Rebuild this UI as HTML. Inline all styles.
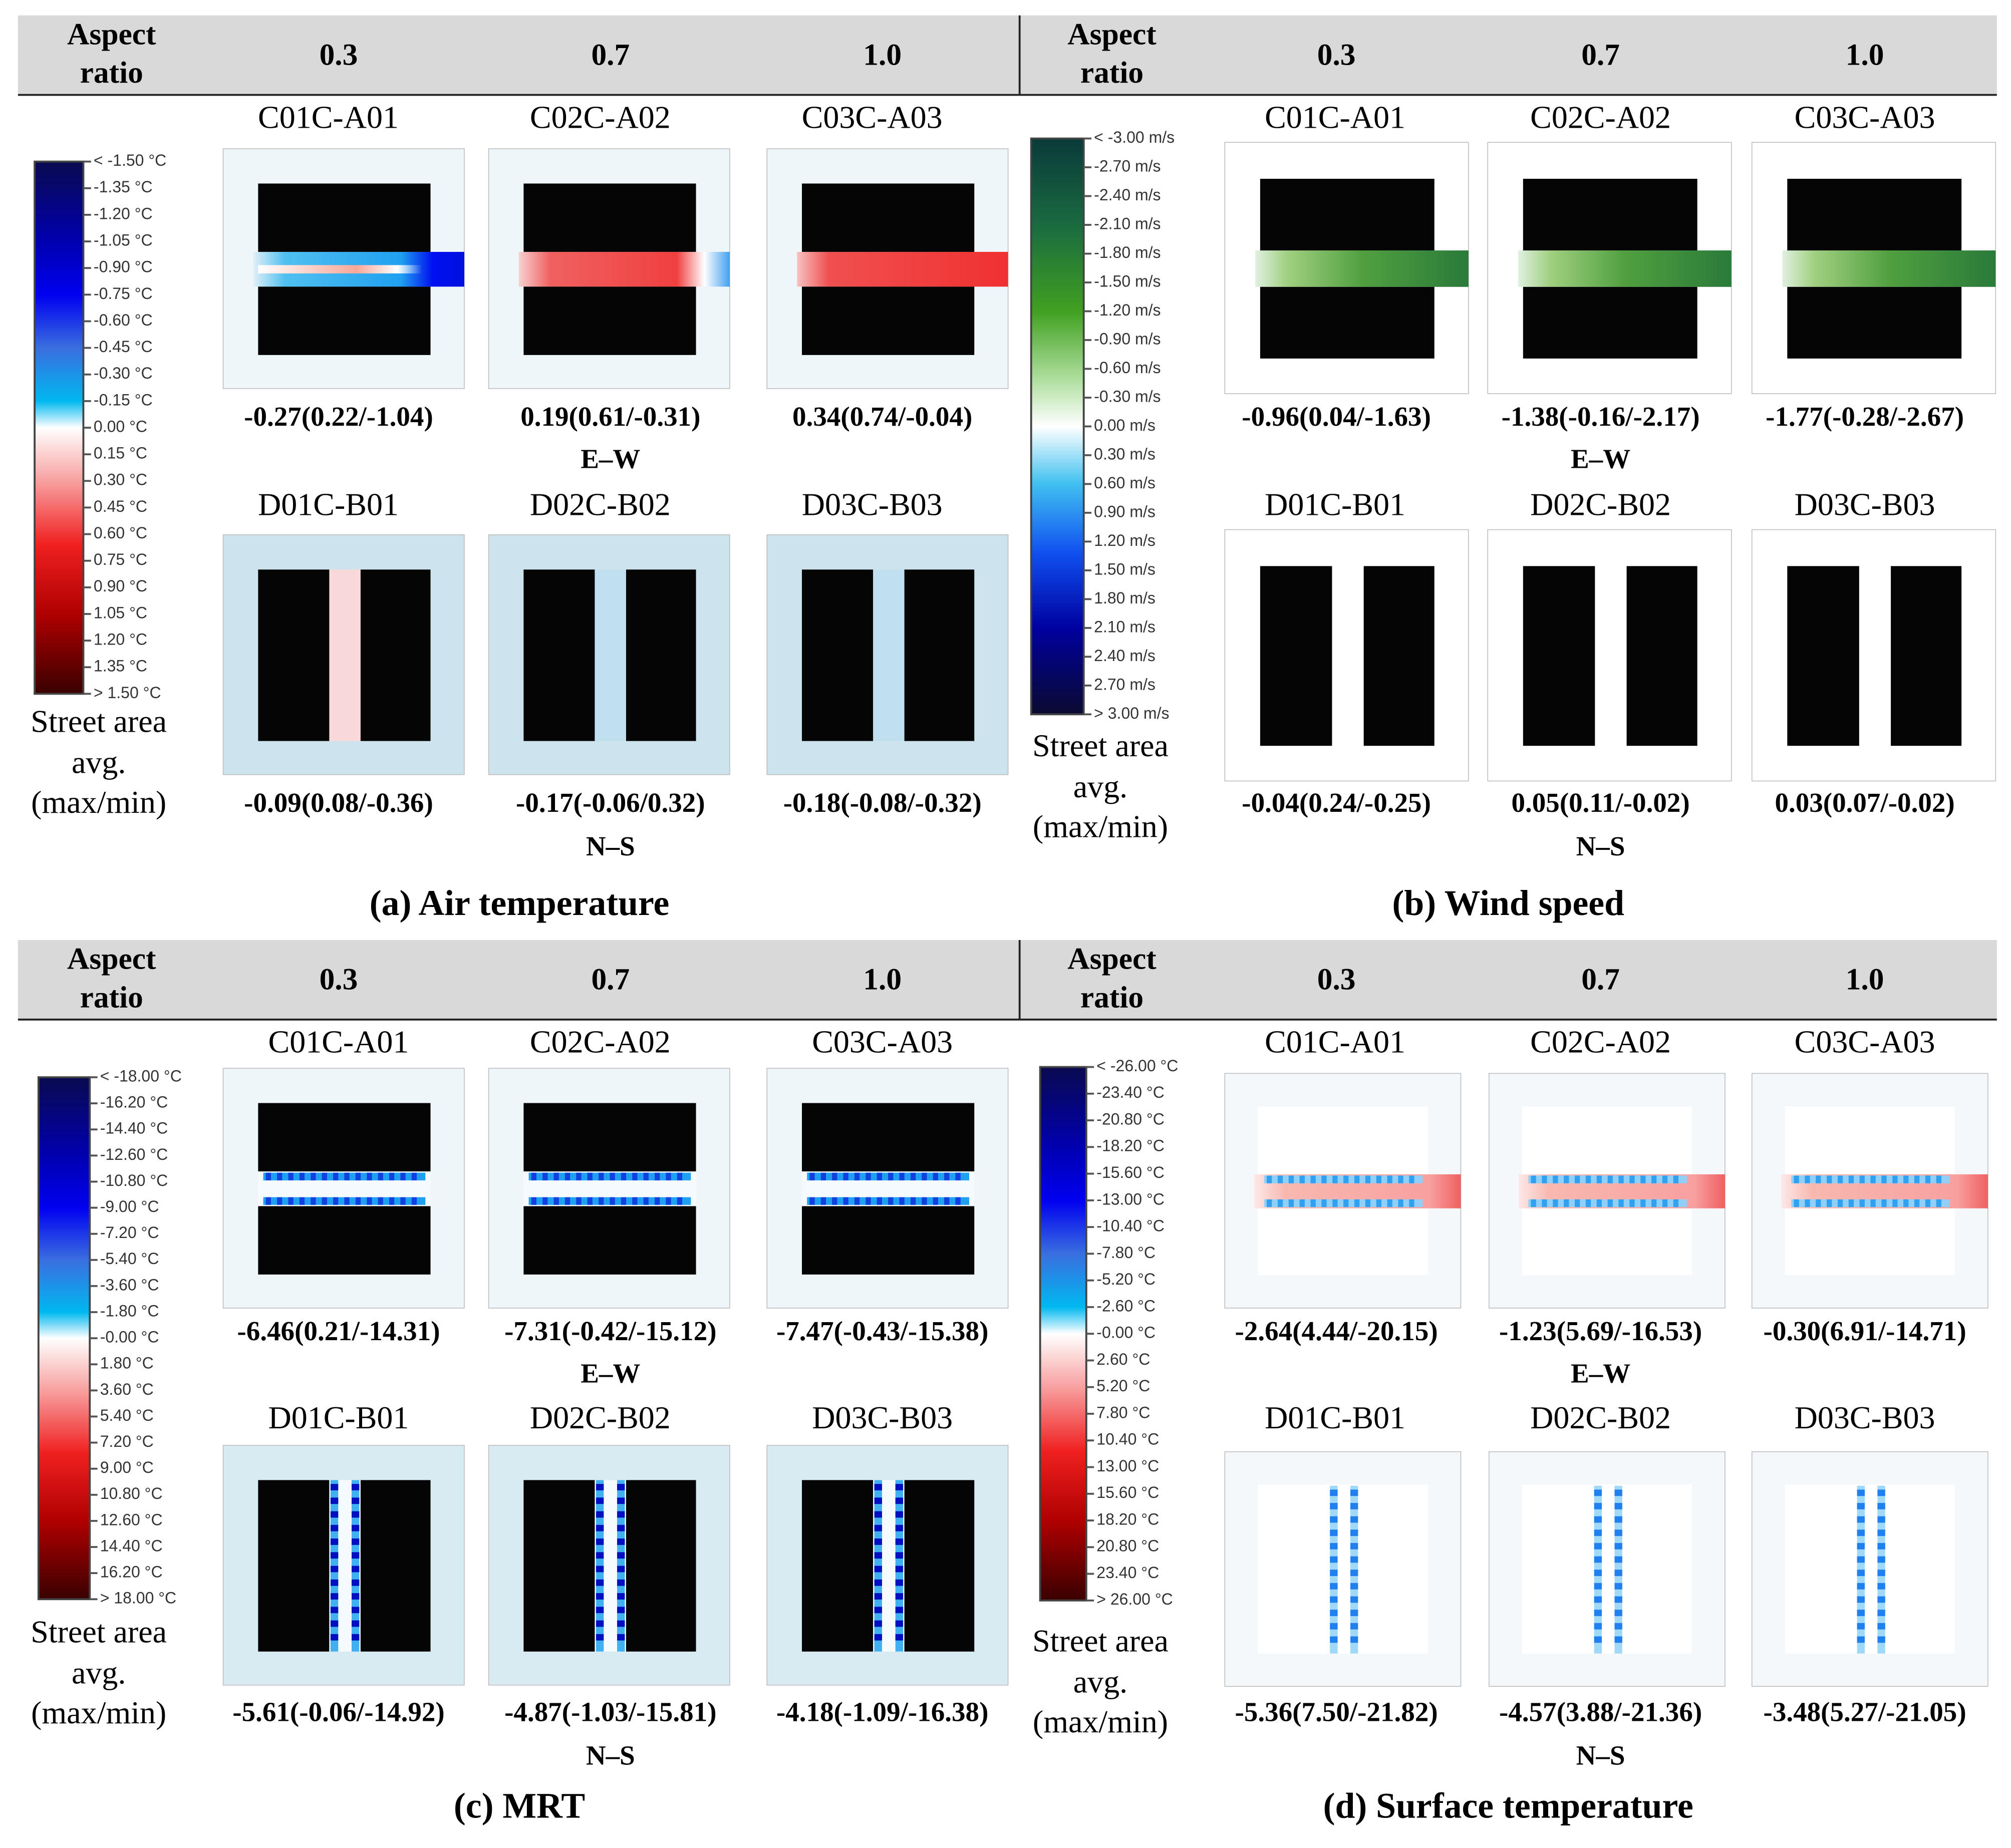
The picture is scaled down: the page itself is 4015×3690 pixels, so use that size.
<!DOCTYPE html>
<html><head><meta charset="utf-8">
<style>
html,body{margin:0;padding:0;background:#fff;}
svg{display:block;}
.h{font-family:"Liberation Serif",serif;font-weight:bold;font-size:24px;}
.lab{font-family:"Liberation Serif",serif;font-size:25px;}
.num{font-family:"Liberation Serif",serif;font-weight:bold;font-size:21.5px;}
.cap{font-family:"Liberation Serif",serif;font-weight:bold;font-size:28px;}
.tk{font-family:"Liberation Sans",sans-serif;font-size:12.5px;fill:#333;}
</style></head>
<body>
<svg id="fig" width="4015" height="3690" viewBox="0 0 1568 1441" preserveAspectRatio="none" xmlns="http://www.w3.org/2000/svg">
<defs>
<linearGradient id="cbTemp" x1="0" y1="0" x2="0" y2="1">
<stop offset="0" stop-color="#0a0a50"/><stop offset="0.15" stop-color="#0000b0"/><stop offset="0.25" stop-color="#0000f0"/><stop offset="0.35" stop-color="#3a6ee0"/><stop offset="0.45" stop-color="#00b8f0"/><stop offset="0.5" stop-color="#ffffff"/><stop offset="0.6" stop-color="#f8a0a0"/><stop offset="0.72" stop-color="#f02020"/><stop offset="0.85" stop-color="#b00000"/><stop offset="1" stop-color="#3a0000"/>
</linearGradient>
<linearGradient id="cbWind" x1="0" y1="0" x2="0" y2="1">
<stop offset="0" stop-color="#0a3a3a"/><stop offset="0.15" stop-color="#1a6a40"/><stop offset="0.3" stop-color="#40a020"/><stop offset="0.42" stop-color="#b0e0a0"/><stop offset="0.5" stop-color="#ffffff"/><stop offset="0.6" stop-color="#40c0f0"/><stop offset="0.72" stop-color="#1050f0"/><stop offset="0.85" stop-color="#0000a0"/><stop offset="1" stop-color="#0a0a30"/>
</linearGradient>
<linearGradient id="bandA1" x1="0" y1="0" x2="1" y2="0"><stop offset="0" stop-color="#e0f0f8"/><stop offset="0.15" stop-color="#50c0f0"/><stop offset="0.7" stop-color="#20a0f0"/><stop offset="0.85" stop-color="#0010f0"/><stop offset="1" stop-color="#0010e0"/></linearGradient>
<linearGradient id="coreA1" x1="0" y1="0" x2="1" y2="0"><stop offset="0" stop-color="#fff"/><stop offset="0.6" stop-color="#f8a898"/><stop offset="0.85" stop-color="#ffffff"/><stop offset="1" stop-color="#ffffff" stop-opacity="0"/></linearGradient>
<linearGradient id="bandA2" x1="0" y1="0" x2="1" y2="0"><stop offset="0" stop-color="#f8d0d0"/><stop offset="0.15" stop-color="#f06060"/><stop offset="0.75" stop-color="#f04040"/><stop offset="0.88" stop-color="#ffffff"/><stop offset="1" stop-color="#40a0f0"/></linearGradient>
<linearGradient id="bandA3" x1="0" y1="0" x2="1" y2="0"><stop offset="0" stop-color="#f8c0c0"/><stop offset="0.15" stop-color="#f05050"/><stop offset="1" stop-color="#f03030"/></linearGradient>
<linearGradient id="bandB" x1="0" y1="0" x2="1" y2="0"><stop offset="0" stop-color="#e0f0e0"/><stop offset="0.15" stop-color="#a0d080"/><stop offset="0.5" stop-color="#50a040"/><stop offset="1" stop-color="#2a7a3a"/></linearGradient>
<linearGradient id="bandD" x1="0" y1="0" x2="1" y2="0"><stop offset="0" stop-color="#fde8e8"/><stop offset="0.15" stop-color="#f8b8b0"/><stop offset="0.85" stop-color="#f8a0a0"/><stop offset="1" stop-color="#f06060"/></linearGradient>
</defs>
</svg>
<script>
const aspectRatios = ["0.3","0.7","1.0"];
const topCases = ["C01C-A01","C02C-A02","C03C-A03"];
const botCases = ["D01C-B01","D02C-B02","D03C-B03"];
const valsA_top = ["-0.27(0.22/-1.04)","0.19(0.61/-0.31)","0.34(0.74/-0.04)"];
const valsA_bot = ["-0.09(0.08/-0.36)","-0.17(-0.06/0.32)","-0.18(-0.08/-0.32)"];
const valsB_top = ["-0.96(0.04/-1.63)","-1.38(-0.16/-2.17)","-1.77(-0.28/-2.67)"];
const valsB_bot = ["-0.04(0.24/-0.25)","0.05(0.11/-0.02)","0.03(0.07/-0.02)"];
const valsC_top = ["-6.46(0.21/-14.31)","-7.31(-0.42/-15.12)","-7.47(-0.43/-15.38)"];
const valsC_bot = ["-5.61(-0.06/-14.92)","-4.87(-1.03/-15.81)","-4.18(-1.09/-16.38)"];
const valsD_top = ["-2.64(4.44/-20.15)","-1.23(5.69/-16.53)","-0.30(6.91/-14.71)"];
const valsD_bot = ["-5.36(7.50/-21.82)","-4.57(3.88/-21.36)","-3.48(5.27/-21.05)"];
const ticksA = ["< -1.50 °C","-1.35  °C","-1.20  °C","-1.05  °C","-0.90  °C","-0.75  °C","-0.60  °C","-0.45  °C","-0.30  °C","-0.15  °C","0.00  °C","0.15  °C","0.30  °C","0.45  °C","0.60  °C","0.75  °C","0.90  °C","1.05  °C","1.20  °C","1.35  °C","> 1.50 °C"];
const ticksB = ["< -3.00 m/s","-2.70  m/s","-2.40  m/s","-2.10  m/s","-1.80  m/s","-1.50  m/s","-1.20  m/s","-0.90  m/s","-0.60  m/s","-0.30  m/s","0.00  m/s","0.30  m/s","0.60  m/s","0.90  m/s","1.20  m/s","1.50  m/s","1.80  m/s","2.10  m/s","2.40  m/s","2.70  m/s","> 3.00 m/s"];
const ticksC = ["< -18.00 °C","-16.20  °C","-14.40  °C","-12.60  °C","-10.80  °C","-9.00  °C","-7.20  °C","-5.40  °C","-3.60  °C","-1.80  °C","-0.00  °C","1.80  °C","3.60  °C","5.40  °C","7.20  °C","9.00  °C","10.80  °C","12.60  °C","14.40  °C","16.20  °C","> 18.00 °C"];
const ticksD = ["< -26.00 °C","-23.40  °C","-20.80  °C","-18.20  °C","-15.60  °C","-13.00  °C","-10.40  °C","-7.80  °C","-5.20  °C","-2.60  °C","-0.00  °C","2.60  °C","5.20  °C","7.80  °C","10.40  °C","13.00  °C","15.60  °C","18.20  °C","20.80  °C","23.40  °C","> 26.00 °C"];

const svg = document.getElementById('fig');
const NS = "http://www.w3.org/2000/svg";
function mk(tag, attrs, parent, txt){
  const e = document.createElementNS(NS, tag);
  for (const k in attrs) e.setAttribute(k, attrs[k]);
  if (txt !== undefined) e.textContent = txt;
  (parent||svg).appendChild(e); return e;
}
function txt(x,y,s,cls,name,anchor){
  const t = mk('text',{x:x,y:y,class:cls,'text-anchor':anchor||'middle','dominant-baseline':'middle'},null,s);
  
  
  return t;
}

function cell(x,y,w,h,type,orient,idx){
  const g = mk('g',{});
  
  
  let bg = '#eef6fa';
  if (type==='b') bg='#ffffff';
  if (type==='d') bg='#f4f8fb';
  if (orient==='ns' && type==='a') bg='#cde4ef';
  if (orient==='ns' && type==='c') bg='#d8eaf2';
  mk('rect',{x:x,y:y,width:w,height:h,fill:bg,stroke:'#bbb','stroke-width':0.6},g);
  const bx1=x+w*0.145, bx2=x+w*0.86;
  if (orient==='ew'){
    const t1=y+h*0.145, t2=y+h*0.43, b1=y+h*0.575, b2=y+h*0.86;
    if (type==='d') mk('rect',{x:x+w*0.14,y:y+h*0.14,width:w*0.72,height:h*0.72,fill:'#fff'},g);
    const fills={a:['bandA1','bandA2','bandA3'][idx],b:'bandB',c:null,d:'bandD'};
    if (type==='c'){
      mk('rect',{x:bx1,y:t2,width:bx2-bx1,height:b1-t2,fill:'#f4fafd'},g);
    } else {
      mk('rect',{x:bx1-w*0.02,y:t2,width:x+w-bx1+w*0.02,height:b1-t2,fill:'url(#'+fills[type]+')'},g);
    }
    if (type==='a' && idx===0) mk('rect',{x:bx1,y:t2+(b1-t2)*0.38,width:(bx2-bx1)*0.95,height:(b1-t2)*0.24,fill:'url(#coreA1)'},g);
    if (type==='c'||type==='d'){
      const n=14, col=type==='c'?'#1040e0':'#30a0f0';
      for(let r=0;r<2;r++){
        const yy = r===0? t2+1 : b1-7;
        mk('rect',{x:bx1+4,y:yy,width:bx2-bx1-8,height:6,fill:type==='c'?'#20a0f0':'#90d0f8'},g);
        for(let i=0;i<n;i++) mk('rect',{x:bx1+6+i*(bx2-bx1-12)/n,y:yy,width:4,height:6,fill:col},g);
      }
    }
    if (type!=='d'){
      mk('rect',{x:bx1,y:t1,width:bx2-bx1,height:t2-t1,fill:'#050505'},g);
      mk('rect',{x:bx1,y:b1,width:bx2-bx1,height:b2-b1,fill:'#050505'},g);
    }
  } else {
    const yt=y+h*0.145, yb=y+h*0.86, l2=x+w*0.44, r1=x+w*0.57;
    if (type==='d') mk('rect',{x:x+w*0.14,y:y+h*0.14,width:w*0.72,height:h*0.72,fill:'#fff'},g);
    let gf = type==='a'?(idx===0?'#f8d8d8':'#c0e0f0'):type==='b'?'#ffffff':type==='c'?'#f4fafd':'#ffffff';
    mk('rect',{x:l2,y:yt,width:r1-l2,height:yb-yt,fill:gf},g);
    if (type==='c'||type==='d'){
      const n=12, col=type==='c'?'#0010c0':'#2080f0';
      for(let c=0;c<2;c++){
        const xx = c===0? l2+1 : r1-7;
        mk('rect',{x:xx,y:yt,width:6,height:yb-yt,fill:type==='c'?'#40b0f0':'#a0d8f8'},g);
        for(let i=0;i<n;i++) mk('rect',{x:xx,y:yt+3+i*(yb-yt-6)/n,width:6,height:5,fill:col},g);
      }
    }
    if (type!=='d'){
      mk('rect',{x:bx1,y:yt,width:l2-bx1,height:yb-yt,fill:'#050505'},g);
      mk('rect',{x:r1,y:yt,width:bx2-r1,height:yb-yt,fill:'#050505'},g);
    }
  }
}

function colorbar(x,y,w,h,ticks,grad,name){
  mk('rect',{x:x,y:y,width:w,height:h,fill:'url(#'+grad+')',stroke:'#444','stroke-width':1.5});
  for(let i=0;i<ticks.length;i++){
    const yy = y + h*i/(ticks.length-1);
    mk('line',{x1:x+w,y1:yy,x2:x+w+6,y2:yy,stroke:'#555','stroke-width':1.5});
    txt(x+w+8,yy,ticks[i],'tk',name+'-tick-'+i,'start');
  }
}

function panel(cfg){
  const ox=cfg.ox, oy=cfg.oy, W=cfg.W;
  mk('rect',{x:ox,y:oy+12,width:W,height:62,fill:'#d9d9d9'});
  mk('line',{x1:ox,y1:oy+74,x2:ox+W,y2:oy+74,stroke:'#222','stroke-width':1.5});
  txt(cfg.arX,oy+29,'Aspect','h','aspect-ratio-header');
  txt(cfg.arX,oy+59,'ratio','h','aspect-ratio-header-2');
  for(let i=0;i<3;i++){
    txt(cfg.cols[i],oy+45,aspectRatios[i],'h','aspect-ratio-'+aspectRatios[i]);
    const lx=cfg.lbl[i], ix=cfg.img[i];
    txt(lx,oy+cfg.lblT,topCases[i],'lab','case-label-'+topCases[i]);
    txt(lx,oy+cfg.lblB,botCases[i],'lab','case-label-'+botCases[i]);
    const cw=cfg.cw, ch=cfg.ch;
    cell(ix-cw/2,oy+cfg.imgT,cw,ch,cfg.type,'ew',i);
    cell(ix-cw/2,oy+cfg.imgB,cw,ch,cfg.type,'ns',i);
    txt(cfg.cols[i],oy+cfg.numT,cfg.vt[i],'num','value-'+topCases[i]);
    txt(cfg.cols[i],oy+cfg.numB,cfg.vb[i],'num','value-'+botCases[i]);
  }
  txt(cfg.cols[1],oy+cfg.numT+33,'E–W','num','orientation-ew');
  txt(cfg.cols[1],oy+cfg.numB+34,'N–S','num','orientation-ns');
  txt(cfg.capX,oy+cfg.capY,cfg.cap,'cap','caption-'+cfg.type);
  colorbar(cfg.cb[0],cfg.cb[1],cfg.cb[2],cfg.cb[3],cfg.ticks,cfg.grad,'colorbar-'+cfg.type);
  const sx=cfg.stX, sy=cfg.stY;
  txt(sx,sy,'Street area','lab','legend-title-1');
  txt(sx,sy+32,'avg.','lab','legend-title-2');
  txt(sx,sy+63,'(max/min)','lab','legend-title-3');
}

panel({type:'a',ox:14,oy:0,W:781,arX:87,cols:[264,476,688],lbl:[256,468,680],img:[268,475,692],cw:188,ch:187,lblT:94,lblB:396,imgT:116,imgB:417,numT:327,numB:628,vt:valsA_top,vb:valsA_bot,cap:'(a)   Air temperature',capX:405,capY:707,cb:[27,126,38,415],ticks:ticksA,grad:'cbTemp',stX:77,stY:565});
panel({type:'b',ox:795,oy:0,W:762,arX:867,cols:[1042,1248,1454],lbl:[1041,1248,1454],img:[1050,1255,1461],cw:190,ch:196,lblT:94,lblB:396,imgT:111,imgB:413,numT:327,numB:628,vt:valsB_top,vb:valsB_bot,cap:'(b)   Wind speed',capX:1176,capY:707,cb:[804,108,41,449],ticks:ticksB,grad:'cbWind',stX:858,stY:584});
panel({type:'c',ox:14,oy:721,W:781,arX:87,cols:[264,476,688],lbl:[264,468,688],img:[268,475,692],cw:188,ch:187,lblT:94,lblB:387,imgT:112,imgB:406,numT:319,numB:616,vt:valsC_top,vb:valsC_bot,cap:'(c)    MRT',capX:405,capY:690,cb:[30,840,40,407],ticks:ticksC,grad:'cbTemp',stX:77,stY:1275});
panel({type:'d',ox:795,oy:721,W:762,arX:867,cols:[1042,1248,1454],lbl:[1041,1248,1454],img:[1047,1253,1458],cw:184,ch:183,lblT:94,lblB:387,imgT:116,imgB:411,numT:319,numB:616,vt:valsD_top,vb:valsD_bot,cap:'(d)   Surface temperature',capX:1176,capY:690,cb:[811,832,36,416],ticks:ticksD,grad:'cbTemp',stX:858,stY:1282});
mk('line',{x1:795,y1:12,x2:795,y2:74,stroke:'#222','stroke-width':1.5});
mk('line',{x1:795,y1:733,x2:795,y2:795,stroke:'#222','stroke-width':1.5});
</script>
</body></html>
